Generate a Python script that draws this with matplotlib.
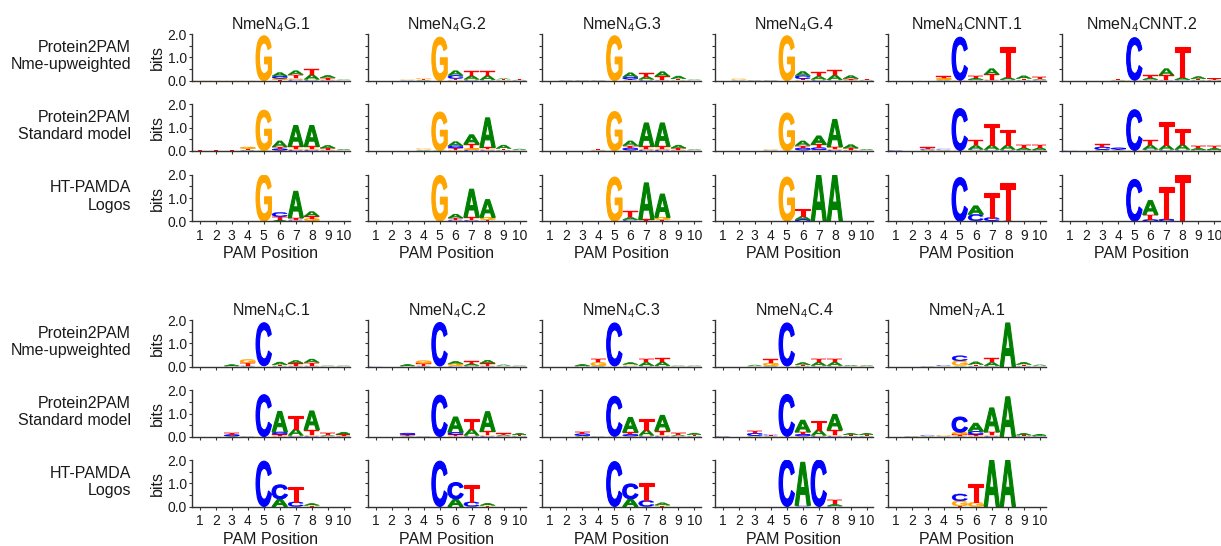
import matplotlib
matplotlib.use("Agg")
import matplotlib.pyplot as plt
from matplotlib.textpath import TextPath
from matplotlib.patches import PathPatch
from matplotlib.font_manager import FontProperties
import matplotlib.transforms as mtrans

plt.rcParams['font.family'] = ['Liberation Sans', 'DejaVu Sans']
plt.rcParams['mathtext.fontset'] = 'custom'
plt.rcParams['mathtext.rm'] = 'Liberation Sans'

# ---------------- data: information (bits) per letter, PAM positions 1..10 ----------------
positions = list(range(1, 11))
letters = ['A', 'C', 'G', 'T']

# --- top block: Protein2PAM Nme-upweighted ---
UP_G1 = {'A': [0, 0, 0, 0, 0, 0.15, 0.17, 0.20, 0.10, 0.02],
         'C': [0, 0, 0, 0, 0, 0.10, 0.05, 0.03, 0.02, 0.01],
         'G': [0.01, 0.01, 0.01, 0.01, 1.93, 0.06, 0.05, 0.03, 0.03, 0.01],
         'T': [0.01, 0.01, 0.01, 0.01, 0, 0.04, 0.16, 0.25, 0.08, 0.01]}
UP_G2 = {'A': [0, 0, 0.01, 0.02, 0, 0.20, 0.15, 0.18, 0.04, 0.02],
         'C': [0, 0, 0.01, 0.01, 0, 0.14, 0.03, 0.02, 0.01, 0.01],
         'G': [0, 0, 0.02, 0.05, 1.87, 0.04, 0.03, 0.02, 0.02, 0.01],
         'T': [0, 0, 0.01, 0.03, 0, 0.05, 0.20, 0.20, 0.03, 0.02]}
UP_G3 = {'A': [0, 0.01, 0.01, 0.01, 0, 0.18, 0.12, 0.20, 0.12, 0.02],
         'C': [0, 0.01, 0.01, 0.01, 0, 0.10, 0.03, 0.02, 0.01, 0.01],
         'G': [0, 0.01, 0.01, 0.01, 1.93, 0.03, 0.03, 0.02, 0.02, 0.01],
         'T': [0, 0.01, 0.01, 0.02, 0, 0.03, 0.15, 0.15, 0.05, 0.01]}
UP_G4 = {'A': [0, 0.01, 0.01, 0.01, 0, 0.18, 0.13, 0.20, 0.13, 0.02],
         'C': [0, 0.01, 0.01, 0.01, 0, 0.14, 0.03, 0.02, 0.01, 0.01],
         'G': [0, 0.05, 0.01, 0.01, 1.93, 0.04, 0.03, 0.02, 0.02, 0.01],
         'T': [0, 0.02, 0.01, 0.01, 0, 0.04, 0.18, 0.20, 0.06, 0.02]}
UP_CNNT1 = {'A': [0, 0, 0, 0.02, 0, 0.06, 0.25, 0.10, 0.12, 0.04],
            'C': [0, 0, 0, 0.02, 1.85, 0.03, 0.02, 0.03, 0.02, 0.02],
            'G': [0, 0, 0, 0.07, 0.02, 0.02, 0.03, 0.02, 0.02, 0.02],
            'T': [0, 0, 0, 0.08, 0, 0.10, 0.22, 1.28, 0.05, 0.08]}
UP_CNNT2 = {'A': [0, 0, 0, 0.01, 0, 0.08, 0.28, 0.10, 0.10, 0.03],
            'C': [0, 0, 0, 0.01, 1.83, 0.03, 0.02, 0.02, 0.02, 0.01],
            'G': [0, 0, 0, 0.02, 0.02, 0.02, 0.02, 0.02, 0.02, 0.01],
            'T': [0, 0, 0, 0.04, 0, 0.10, 0.20, 1.30, 0.04, 0.05]}

# --- top block: Protein2PAM Standard model ---
STD_G1 = {'A': [0, 0, 0, 0.02, 0.02, 0.26, 0.90, 0.90, 0.12, 0.04],
          'C': [0, 0, 0, 0.02, 0, 0.06, 0.04, 0.04, 0.02, 0.01],
          'G': [0.01, 0.01, 0.01, 0.08, 1.73, 0.03, 0.05, 0.05, 0.04, 0.01],
          'T': [0.01, 0.01, 0.01, 0.05, 0, 0.08, 0.10, 0.10, 0.06, 0.02]}
STD_G2 = {'A': [0, 0, 0, 0.02, 0.02, 0.18, 0.40, 1.27, 0.15, 0.05],
          'C': [0, 0, 0, 0.01, 0, 0.10, 0.05, 0.03, 0.02, 0.01],
          'G': [0, 0, 0, 0.05, 1.65, 0.04, 0.06, 0.04, 0.03, 0.01],
          'T': [0, 0, 0, 0.03, 0, 0.08, 0.18, 0.08, 0.05, 0.02]}
STD_G3 = {'A': [0, 0, 0, 0.01, 0.01, 0.20, 1.00, 1.00, 0.13, 0.03],
          'C': [0, 0, 0, 0.01, 0, 0.10, 0.05, 0.05, 0.02, 0.01],
          'G': [0, 0, 0, 0.03, 1.68, 0.03, 0.05, 0.05, 0.04, 0.01],
          'T': [0, 0, 0, 0.03, 0, 0.10, 0.10, 0.10, 0.06, 0.02]}
STD_G4 = {'A': [0, 0, 0, 0.01, 0.01, 0.20, 0.36, 1.17, 0.15, 0.04],
          'C': [0, 0, 0, 0.01, 0, 0.10, 0.10, 0.04, 0.02, 0.01],
          'G': [0, 0, 0, 0.03, 1.62, 0.03, 0.04, 0.04, 0.03, 0.01],
          'T': [0, 0, 0, 0.02, 0, 0.10, 0.14, 0.10, 0.07, 0.02]}
STD_CNNT1 = {'A': [0.01, 0, 0.03, 0.02, 0, 0.17, 0.20, 0.20, 0.10, 0.10],
             'C': [0.02, 0, 0.04, 0.03, 1.80, 0.04, 0.03, 0.03, 0.02, 0.02],
             'G': [0, 0, 0.02, 0.02, 0.02, 0.03, 0.03, 0.03, 0.02, 0.02],
             'T': [0, 0, 0.06, 0.02, 0, 0.22, 0.90, 0.65, 0.12, 0.12]}
STD_CNNT2 = {'A': [0, 0, 0.03, 0.02, 0, 0.18, 0.20, 0.22, 0.08, 0.08],
             'C': [0.01, 0, 0.12, 0.06, 1.75, 0.04, 0.03, 0.03, 0.02, 0.02],
             'G': [0, 0, 0.02, 0.02, 0.02, 0.03, 0.03, 0.03, 0.02, 0.02],
             'T': [0, 0, 0.12, 0.03, 0, 0.20, 0.97, 0.65, 0.10, 0.10]}

# --- top block: HT-PAMDA logos ---
HT_G1 = {'A': [0, 0, 0, 0, 0, 0.06, 1.14, 0.20, 0, 0],
         'C': [0, 0, 0, 0, 0, 0.18, 0.04, 0.02, 0, 0],
         'G': [0, 0, 0, 0, 2.00, 0, 0.03, 0.10, 0, 0],
         'T': [0, 0, 0, 0, 0, 0.14, 0.08, 0.10, 0, 0]}
HT_G2 = {'A': [0, 0, 0, 0, 0, 0.17, 1.20, 0.76, 0, 0],
         'C': [0, 0, 0, 0, 0, 0.05, 0.04, 0.02, 0, 0],
         'G': [0, 0, 0, 0, 1.97, 0.02, 0.02, 0.10, 0, 0],
         'T': [0, 0, 0, 0, 0, 0.07, 0.12, 0.05, 0, 0]}
HT_G3 = {'A': [0, 0, 0, 0, 0, 0.10, 1.57, 1.00, 0, 0],
         'C': [0, 0, 0, 0, 0, 0.05, 0.01, 0.02, 0, 0],
         'G': [0, 0, 0, 0, 1.90, 0.02, 0.01, 0.10, 0, 0],
         'T': [0, 0, 0, 0, 0, 0.28, 0.06, 0.05, 0, 0]}
HT_G4 = {'A': [0, 0, 0, 0, 0, 0.14, 2.00, 2.00, 0, 0],
         'C': [0, 0, 0, 0, 0, 0.08, 0, 0, 0, 0],
         'G': [0, 0, 0, 0, 1.90, 0, 0, 0, 0, 0],
         'T': [0, 0, 0, 0, 0, 0.32, 0, 0, 0, 0]}
HT_CNNT1 = {'A': [0, 0, 0, 0, 0, 0.36, 0.02, 0.03, 0, 0],
            'C': [0, 0, 0, 0, 1.88, 0.28, 0.14, 0, 0, 0],
            'G': [0, 0, 0, 0, 0, 0, 0, 0, 0, 0],
            'T': [0, 0, 0, 0, 0, 0.02, 1.07, 1.63, 0, 0]}
HT_CNNT2 = {'A': [0, 0, 0, 0, 0, 0.60, 0, 0, 0, 0],
            'C': [0, 0, 0, 0, 1.80, 0.07, 0.10, 0, 0, 0],
            'G': [0, 0, 0, 0, 0, 0, 0, 0, 0, 0],
            'T': [0, 0, 0, 0, 0, 0.22, 1.36, 2.00, 0, 0]}

# --- bottom block: Protein2PAM Nme-upweighted ---
UP_C1 = {'A': [0, 0, 0.06, 0.02, 0, 0.12, 0.12, 0.15, 0.02, 0.02],
         'C': [0, 0, 0.01, 0.02, 1.85, 0.02, 0.02, 0.02, 0.01, 0.01],
         'G': [0, 0, 0.01, 0.15, 0.01, 0.03, 0.03, 0.03, 0.01, 0.01],
         'T': [0, 0, 0.01, 0.12, 0.03, 0.03, 0.10, 0.13, 0.01, 0.01]}
UP_C2 = {'A': [0, 0, 0.07, 0.02, 0, 0.10, 0.08, 0.13, 0.05, 0.02],
         'C': [0.01, 0, 0.01, 0.02, 1.87, 0.02, 0.02, 0.02, 0.01, 0.01],
         'G': [0, 0, 0.01, 0.12, 0.01, 0.08, 0.03, 0.03, 0.01, 0.01],
         'T': [0, 0, 0.01, 0.10, 0.02, 0.03, 0.10, 0.10, 0.02, 0.01]}
UP_C3 = {'A': [0, 0, 0.07, 0.02, 0, 0.08, 0.15, 0.17, 0.02, 0.02],
         'C': [0, 0, 0.01, 0.02, 1.85, 0.02, 0.02, 0.02, 0.01, 0.01],
         'G': [0, 0, 0.01, 0.15, 0.01, 0.05, 0.02, 0.02, 0.01, 0.01],
         'T': [0, 0, 0.01, 0.15, 0.02, 0.03, 0.15, 0.17, 0.01, 0.01]}
UP_C4 = {'A': [0, 0, 0.05, 0.02, 0, 0.10, 0.15, 0.15, 0.04, 0.03],
         'C': [0, 0, 0.01, 0.02, 1.85, 0.02, 0.02, 0.02, 0.01, 0.01],
         'G': [0, 0, 0.01, 0.12, 0.01, 0.03, 0.03, 0.03, 0.01, 0.01],
         'T': [0, 0, 0.01, 0.15, 0.02, 0.03, 0.15, 0.15, 0.01, 0.01]}
UP_A1 = {'A': [0, 0, 0.01, 0.01, 0.02, 0.12, 0.15, 1.88, 0.10, 0.05],
         'C': [0, 0, 0.01, 0.03, 0.22, 0.02, 0.02, 0, 0.02, 0.01],
         'G': [0, 0, 0, 0.01, 0.20, 0.02, 0.02, 0, 0.02, 0.01],
         'T': [0, 0, 0.01, 0.01, 0.03, 0.05, 0.17, 0, 0.05, 0.02]}

# --- bottom block: Protein2PAM Standard model ---
STD_C1 = {'A': [0, 0, 0.02, 0.01, 0, 0.88, 0.28, 0.80, 0.04, 0.10],
          'C': [0, 0, 0.06, 0.01, 1.80, 0.10, 0.03, 0.03, 0.02, 0.02],
          'G': [0, 0, 0.01, 0.01, 0.01, 0.03, 0.03, 0.03, 0.02, 0.02],
          'T': [0, 0, 0.07, 0.01, 0, 0.08, 0.55, 0.25, 0.10, 0.06]}
STD_C2 = {'A': [0, 0, 0.02, 0.01, 0, 0.65, 0.28, 0.85, 0.05, 0.07],
          'C': [0, 0, 0.07, 0.01, 1.78, 0.10, 0.03, 0.03, 0.02, 0.02],
          'G': [0, 0, 0.01, 0.01, 0.01, 0.03, 0.03, 0.03, 0.02, 0.02],
          'T': [0, 0, 0.06, 0.01, 0, 0.07, 0.42, 0.17, 0.06, 0.04]}
STD_C3 = {'A': [0, 0, 0.04, 0.01, 0, 0.63, 0.25, 0.66, 0.05, 0.07],
          'C': [0, 0, 0.08, 0.01, 1.72, 0.07, 0.03, 0.03, 0.02, 0.02],
          'G': [0, 0, 0.01, 0.01, 0.02, 0.03, 0.03, 0.03, 0.02, 0.02],
          'T': [0, 0, 0.08, 0.01, 0, 0.10, 0.45, 0.20, 0.08, 0.05]}
STD_C4 = {'A': [0.01, 0, 0.03, 0.02, 0, 0.50, 0.25, 0.66, 0.06, 0.06],
          'C': [0.02, 0, 0.10, 0.04, 1.80, 0.08, 0.03, 0.03, 0.02, 0.02],
          'G': [0, 0, 0.02, 0.02, 0.02, 0.03, 0.03, 0.03, 0.02, 0.02],
          'T': [0, 0, 0.10, 0.02, 0, 0.10, 0.38, 0.24, 0.05, 0.05]}
STD_A1 = {'A': [0, 0.01, 0.02, 0.01, 0.02, 0.34, 1.03, 1.72, 0.08, 0.06],
          'C': [0, 0.01, 0.03, 0.01, 0.65, 0.14, 0.03, 0, 0.02, 0.02],
          'G': [0, 0.01, 0.01, 0.04, 0.10, 0.03, 0.03, 0, 0.02, 0.01],
          'T': [0, 0.01, 0.02, 0.01, 0.08, 0.07, 0.15, 0, 0.03, 0.02]}

# --- bottom block: HT-PAMDA logos ---
HT_C1 = {'A': [0, 0, 0, 0, 0, 0.33, 0, 0.08, 0, 0],
         'C': [0, 0, 0, 0, 1.95, 0.60, 0.20, 0, 0, 0],
         'G': [0, 0, 0, 0, 0, 0, 0, 0.04, 0, 0],
         'T': [0, 0, 0, 0, 0, 0, 0.64, 0.01, 0, 0]}
HT_C2 = {'A': [0, 0, 0, 0, 0, 0.33, 0, 0.09, 0, 0],
         'C': [0, 0, 0, 0, 1.95, 0.70, 0.20, 0, 0, 0],
         'G': [0, 0, 0, 0, 0, 0, 0, 0.04, 0, 0],
         'T': [0, 0, 0, 0, 0, 0, 0.72, 0.01, 0, 0]}
HT_C3 = {'A': [0, 0, 0, 0, 0, 0.33, 0, 0.10, 0, 0],
         'C': [0, 0, 0, 0, 1.93, 0.64, 0.26, 0, 0, 0],
         'G': [0, 0, 0, 0, 0, 0, 0, 0.05, 0, 0],
         'T': [0, 0, 0, 0, 0, 0, 0.74, 0.01, 0, 0]}
HT_C4 = {'A': [0, 0, 0, 0, 0, 1.85, 0, 0.08, 0, 0],
         'C': [0, 0, 0, 0, 2.00, 0.05, 2.00, 0.02, 0, 0],
         'G': [0, 0, 0, 0, 0, 0, 0, 0, 0, 0],
         'T': [0, 0, 0, 0, 0, 0, 0, 0.20, 0, 0]}
HT_A1 = {'A': [0, 0, 0, 0, 0, 0, 2.00, 2.00, 0, 0],
         'C': [0, 0, 0, 0, 0.30, 0, 0, 0, 0, 0],
         'G': [0, 0, 0, 0, 0.22, 0.18, 0, 0, 0, 0],
         'T': [0, 0, 0, 0, 0.02, 0.80, 0, 0, 0, 0]}

top_titles = ['NmeN$_{\\mathregular{4}}$G.1', 'NmeN$_{\\mathregular{4}}$G.2',
              'NmeN$_{\\mathregular{4}}$G.3', 'NmeN$_{\\mathregular{4}}$G.4',
              'NmeN$_{\\mathregular{4}}$CNNT.1', 'NmeN$_{\\mathregular{4}}$CNNT.2']
bottom_titles = ['NmeN$_{\\mathregular{4}}$C.1', 'NmeN$_{\\mathregular{4}}$C.2',
                 'NmeN$_{\\mathregular{4}}$C.3', 'NmeN$_{\\mathregular{4}}$C.4',
                 'NmeN$_{\\mathregular{7}}$A.1']
row_labels = ['Protein2PAM\nNme-upweighted', 'Protein2PAM\nStandard model', 'HT-PAMDA\nLogos']

top_rows = [[UP_G1, UP_G2, UP_G3, UP_G4, UP_CNNT1, UP_CNNT2],
            [STD_G1, STD_G2, STD_G3, STD_G4, STD_CNNT1, STD_CNNT2],
            [HT_G1, HT_G2, HT_G3, HT_G4, HT_CNNT1, HT_CNNT2]]
bottom_rows = [[UP_C1, UP_C2, UP_C3, UP_C4, UP_A1],
               [STD_C1, STD_C2, STD_C3, STD_C4, STD_A1],
               [HT_C1, HT_C2, HT_C3, HT_C4, HT_A1]]

# ---------------- style ----------------
COLORS = {'A': '#008000', 'C': '#0000ff', 'G': '#ffa500', 'T': '#ff0000'}
TXT = '#1a1a1a'
FS = 11.5
TFS = 10

W, H = 1221, 546
fig = plt.figure(figsize=(W / 100, H / 100), dpi=100)
fig.patch.set_facecolor('white')

fp = FontProperties(family='Liberation Sans', weight='bold')
GLYPHS = {}
for L in letters:
    p = TextPath((0, 0), L, size=1, prop=fp)
    GLYPHS[L] = (p, p.get_extents())


def draw_letter(ax, L, x, y, w, h):
    p, ext = GLYPHS[L]
    t = (mtrans.Affine2D().translate(-ext.x0, -ext.y0)
         .scale(w / ext.width, h / ext.height).translate(x - w / 2, y))
    if h > 0.3:
        lw = 0.8
    elif h > 0.05:
        lw = 0.3
    else:
        lw = 0
    ax.add_patch(PathPatch(t.transform_path(p), facecolor=COLORS[L],
                           edgecolor=COLORS[L], lw=lw, joinstyle='miter'))


def draw_logo(ax, mat):
    for i, pos in enumerate(positions):
        stack = sorted([(mat[L][i], L) for L in letters if mat[L][i] > 0])
        y = 0.0
        for h, L in stack:
            draw_letter(ax, L, pos, y, 0.96, h)
            y += h


AXW, AXH = 158.5, 46.5
col_x = [191.7, 367.5, 542.3, 714.7, 887.7, 1062.3]
top_bottoms = [80.7, 150.9, 221.3]
bot_bottoms = [366.7, 436.8, 506.5]


def make_block(rows, bottoms, titles):
    for r, (row, yb) in enumerate(zip(rows, bottoms)):
        for c, mat in enumerate(row):
            x0 = col_x[c]
            ax = fig.add_axes([x0 / W, (H - yb) / H, AXW / W, AXH / H])
            draw_logo(ax, mat)
            ax.set_xlim(0.5, 10.4)
            ax.set_ylim(0, 2.0)
            for s in ['top', 'right']:
                ax.spines[s].set_visible(False)
            for s in ['left', 'bottom']:
                ax.spines[s].set_color('#333333')
                ax.spines[s].set_linewidth(1.0)
                ax.spines[s].set_zorder(3)
            ax.set_xticks(positions)
            ax.set_yticks([0, 1, 2])
            ax.set_yticks([0.5, 1.5], minor=True)
            ax.tick_params(axis='both', which='both', length=2, width=0.8,
                           color='#333333', labelcolor=TXT, labelsize=TFS)
            ax.tick_params(axis='x', pad=3.5)
            ax.tick_params(axis='y', pad=1.5)
            if c == 0:
                ax.set_yticklabels(['0.0', '1.0', '2.0'])
                ax.set_ylabel('bits', fontsize=FS, color=TXT, labelpad=2)
            else:
                ax.set_yticklabels([])
            if r == 2:
                ax.set_xticklabels([str(p) for p in positions])
                ax.set_xlabel('PAM Position', fontsize=FS, color=TXT, labelpad=2.5)
            else:
                ax.set_xticklabels([])
            if r == 0:
                ax.set_title(titles[c], fontsize=FS, color=TXT, pad=3)
            if c == 0:
                fig.text(131 / W, (H - (yb - AXH / 2 - 1.5)) / H, row_labels[r],
                         ha='right', va='center', fontsize=FS, color=TXT,
                         linespacing=1.2)


make_block(top_rows, top_bottoms, top_titles)
make_block(bottom_rows, bot_bottoms, bottom_titles)

fig.savefig('out.png', dpi=100, facecolor='white')
